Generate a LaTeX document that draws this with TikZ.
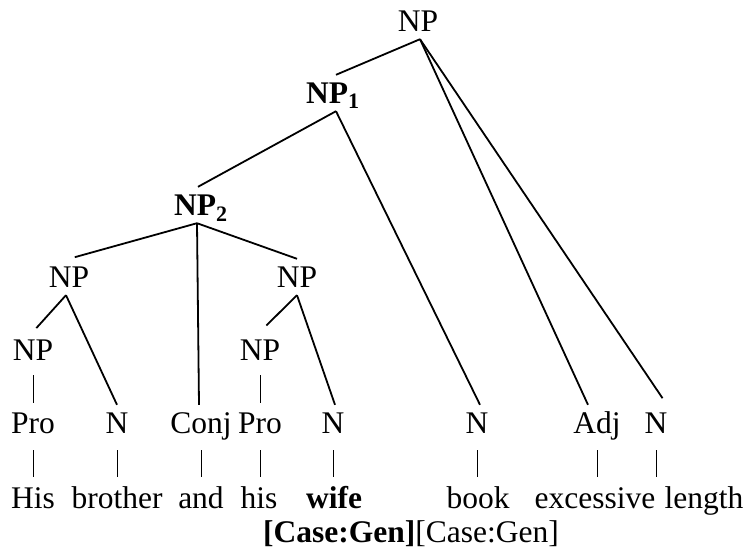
\documentclass[tikz,border=0pt]{standalone}
\usepackage{fontspec}
\setmainfont{Liberation Serif}
\begin{document}
\begin{tikzpicture}[x=1pt,y=-1pt,
  lab/.style={inner xsep=0pt, inner ysep=8pt, text height=20pt, text depth=0pt,
    anchor=base, font=\fontsize{31.5pt}{37pt}\selectfont},
  edge/.style={line width=1.8pt},
  bar/.style={line width=0.8pt, shorten <=9pt, shorten >=3pt}]
\useasboundingbox (0,0) rectangle (745,554);
% phrase nodes
\node[lab] (n0) at (418,31) {NP};
\node[lab] (n1) at (333,103) {\textbf{NP\textsubscript{1}}};
\node[lab] (n2) at (201,215) {\textbf{NP\textsubscript{2}}};
\node[lab] (n3) at (69,287) {NP};
\node[lab] (n4) at (297,287) {NP};
\node[lab] (n5) at (33,360) {NP};
\node[lab] (n6) at (260,360) {NP};
% terminals
\node[lab] (t1) at (33,433) {Pro};
\node[lab] (t2) at (117,433) {N};
\node[lab] (t3) at (201,433) {Conj};
\node[lab] (t4) at (260,433) {Pro};
\node[lab] (t5) at (333,433) {N};
\node[lab] (t6) at (477,433) {N};
\node[lab] (t7) at (597,433) {Adj};
\node[lab] (t8) at (656,433) {N};
% words
\node[lab] (w1) at (33,508) {His};
\node[lab] (w2) at (117,508) {brother};
\node[lab] (w3) at (201,508) {and};
\node[lab] (w4) at (259,508) {his};
\node[lab] (w5) at (334,508) {\textbf{wife}};
\node[lab] (w6) at (478,508) {book};
\node[lab] (w7) at (595,508) {excessive};
\node[lab] (w8) at (704,508) {length};
\node[lab] (cs) at (411,542) {\textbf{[Case:Gen]}[Case:Gen]};
% branches
\draw[edge] ([xshift=2pt]n0.south) -- ([xshift=3pt]n1.north);
\draw[edge] ([xshift=2pt]n0.south) -- ([xshift=-9pt]t7.north);
\draw[edge,shorten >=8pt] ([xshift=2pt]n0.south) -- ([xshift=11pt]t8.north);
\draw[edge] ([xshift=3pt]n1.south) -- ([xshift=-3pt]n2.north);
\draw[edge] ([xshift=3pt]n1.south) -- ([xshift=3pt]t6.north);
\draw[edge,shorten >=6pt] ([xshift=-4pt]n2.south) -- (n3.north);
\draw[edge] ([xshift=-4pt]n2.south) -- ([xshift=-2pt]t3.north);
\draw[edge] ([xshift=-4pt]n2.south) -- (n4.north);
\draw[edge,shorten >=5pt] ([xshift=-3pt]n3.south) -- (n5.north);
\draw[edge] ([xshift=-3pt]n3.south) -- (t2.north);
\draw[edge,shorten >=9pt] (n4.south) -- (n6.north);
\draw[edge] (n4.south) -- ([xshift=2pt]t5.north);
% unary bars
\draw[line width=0.8pt, shorten <=7pt, shorten >=2pt] (n5.south) -- (t1.north);
\draw[line width=0.8pt, shorten <=7pt, shorten >=2pt] (n6.south) -- (t4.north);
\draw[bar] (t1.south) -- (t1.south |- w1.north);
\draw[bar] (t2.south) -- (t2.south |- w2.north);
\draw[bar] (t3.south) -- (t3.south |- w3.north);
\draw[bar] (t4.south) -- (t4.south |- w4.north);
\draw[bar] (t5.south) -- (t5.south |- w5.north);
\draw[bar] (t6.south) -- (t6.south |- w6.north);
\draw[bar] (t7.south) -- (t7.south |- w7.north);
\draw[bar] (t8.south) -- (t8.south |- w8.north);
\end{tikzpicture}
\end{document}
